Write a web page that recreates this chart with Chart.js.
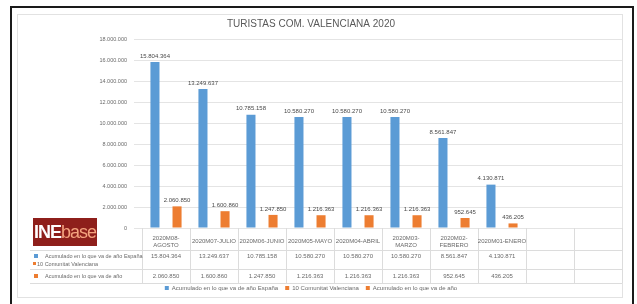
<!DOCTYPE html>
<html>
<head>
<meta charset="utf-8">
<script src="https://cdn.jsdelivr.net/npm/chart.js@4.4.1/dist/chart.umd.min.js"></script>
<style>
  body { margin: 0; background: #fff; }
  #wrap { position: relative; width: 637px; height: 304px; overflow: hidden; }
  #frame { position: absolute; left: 10px; top: 6px; width: 620px; height: 310px; border: 2px solid #1a1a1a; }
  #box { position: absolute; left: 17px; top: 14px; width: 604px; height: 282px; border: 1px solid #e2e2e2; }
  #logo { position: absolute; left: 33px; top: 218px; width: 64px; height: 28px; background: #8e1f1b;
          font-family: 'Liberation Sans', Arial, sans-serif; font-size: 18px; line-height: 28px;
          text-align: center; letter-spacing: -1px; z-index: 2; }
  #logo b { color: #fff; }
  #logo span { color: #f4a37e; }
  canvas { position: absolute; left: 0; top: 0; z-index: 1; }
</style>
</head>
<body>
<div id="wrap">
  <div id="frame"></div>
  <div id="box"></div>
  <canvas id="myChart" width="637" height="304"></canvas>
  <div id="logo"><b>INE</b><span>base</span></div>
</div>
<script>
const categories = ['2020M08-AGOSTO', '2020M07-JULIO', '2020M06-JUNIO', '2020M05-MAYO',
  '2020M04-ABRIL', '2020M03-MARZO', '2020M02-FEBRERO', '2020M01-ENERO', '', ''];
const categoryLines = [['2020M08-', 'AGOSTO'], ['2020M07-JULIO'], ['2020M06-JUNIO'], ['2020M05-MAYO'],
  ['2020M04-ABRIL'], ['2020M03-', 'MARZO'], ['2020M02-', 'FEBRERO'], ['2020M01-ENERO'], [''], ['']];
const espana = [15804364, 13249637, 10785158, 10580270, 10580270, 10580270, 8561847, 4130871];
const valencia = [2060850, 1600860, 1247850, 1216363, 1216363, 1216363, 952645, 436205];
const seriesNames = ['Acumulado en lo que va de año España', '10 Comunitat Valenciana', 'Acumulado en lo que va de año'];
const yTicks = [0, 2000000, 4000000, 6000000, 8000000, 10000000, 12000000, 14000000, 16000000, 18000000];

const BLUE = '#5b9bd5';
const ORANGE = '#ed7d31';
const TXT = '#6a6a6a';
const FONT = "'Liberation Sans', Arial, sans-serif";

function fmt(v) {
  return String(v).replace(/\B(?=(\d{3})+(?!\d))/g, '.');
}

// value labels above bars + data table under the axis
const tablePlugin = {
  id: 'tablePlugin',
  afterDatasetsDraw(chart) {
    const { ctx, chartArea: { left, right, bottom }, scales: { x } } = chart;
    ctx.save();
    ctx.font = '6px ' + FONT;
    ctx.fillStyle = '#4a4a4a';
    ctx.textAlign = 'center';
    ctx.textBaseline = 'bottom';
    [0, 2].forEach(di => {
      const meta = chart.getDatasetMeta(di);
      meta.data.forEach((bar, i) => {
        ctx.fillText(fmt(chart.data.datasets[di].data[i]), bar.x, bar.y - 3);
      });
    });

    // table grid
    const colW = (right - left) / categories.length;
    ctx.strokeStyle = '#dcdcdc';
    ctx.lineWidth = 1;
    ctx.beginPath();
    for (let c = 0; c <= categories.length; c++) {
      const px = Math.round(left + c * colW) + 0.5;
      ctx.moveTo(px, bottom);
      ctx.lineTo(px, 283);
    }
    ctx.moveTo(30, 250.5); ctx.lineTo(right, 250.5);
    ctx.moveTo(30, 269.5); ctx.lineTo(right, 269.5);
    ctx.moveTo(30, 283.5); ctx.lineTo(right, 283.5);
    ctx.stroke();

    // category header
    ctx.fillStyle = TXT;
    ctx.textBaseline = 'middle';
    categoryLines.forEach((lines, i) => {
      const cx = x.getPixelForValue(i);
      if (lines.length === 2) {
        ctx.fillText(lines[0], cx, 238);
        ctx.fillText(lines[1], cx, 245);
      } else {
        ctx.fillText(lines[0], cx, 241);
      }
    });

    // values rows
    espana.forEach((v, i) => ctx.fillText(fmt(v), x.getPixelForValue(i), 256));
    valencia.forEach((v, i) => ctx.fillText(fmt(v), x.getPixelForValue(i), 276));

    // row headers
    ctx.textAlign = 'left';
    ctx.fillStyle = BLUE;
    ctx.fillRect(34, 254, 4, 4);
    ctx.fillStyle = ORANGE;
    ctx.fillRect(33, 262, 3, 3);
    ctx.fillRect(34, 274, 4, 4);
    ctx.fillStyle = TXT;
    ctx.font = '5.5px ' + FONT;
    ctx.fillText(seriesNames[0], 45, 256);
    ctx.fillText(seriesNames[1], 37, 264);
    ctx.fillText(seriesNames[2], 45, 276);
    ctx.restore();
  },
};

const config = {
  type: 'bar',
  data: {
    labels: categories,
    datasets: [
      { label: seriesNames[0], data: espana, backgroundColor: BLUE },
      { label: seriesNames[1], data: [], backgroundColor: ORANGE, grouped: false },
      { label: seriesNames[2], data: valencia, backgroundColor: ORANGE },
    ],
  },
  options: {
    responsive: false,
    animation: false,
    categoryPercentage: 0.92,
    barPercentage: 0.41,
    layout: { padding: { left: 0, right: 15, top: 0, bottom: 3 } },
    plugins: {
      title: {
        display: true,
        text: 'TURISTAS COM. VALENCIANA 2020',
        color: '#595959',
        font: { family: FONT, size: 10, weight: 'normal' },
        padding: { top: 18, bottom: 9 },
      },
      legend: {
        position: 'bottom',
        labels: {
          color: TXT,
          font: { family: FONT, size: 6 },
          boxWidth: 4,
          boxHeight: 4,
          padding: 7,
        },
      },
      tooltip: { enabled: false },
    },
    scales: {
      x: {
        grid: { display: false },
        border: { display: false },
        ticks: { display: false },
        afterFit(scale) { scale.height = 50; },
      },
      y: {
        min: 0,
        max: 18000000,
        afterBuildTicks(scale) { scale.ticks = yTicks.map(v => ({ value: v })); },
        afterFit(scale) { scale.width = 142; },
        grid: { color: '#e4e4e4' },
        border: { display: false },
        ticks: {
          color: TXT,
          padding: 7,
          font: { family: FONT, size: 5.5 },
          callback: v => fmt(v),
        },
      },
    },
  },
  plugins: [tablePlugin],
};

const myChart = new Chart(document.getElementById('myChart'), config);
</script>
</body>
</html>
